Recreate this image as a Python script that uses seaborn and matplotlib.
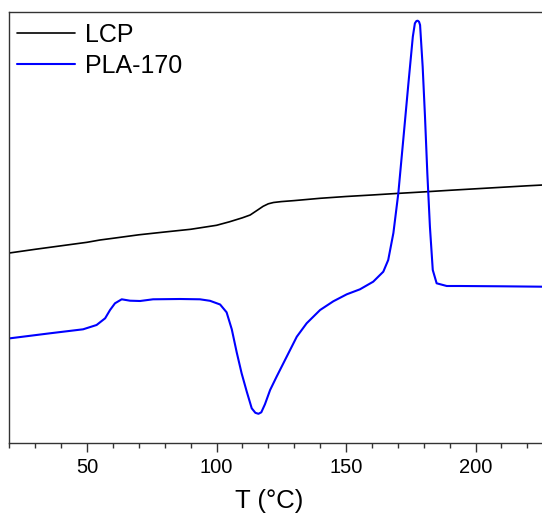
import matplotlib
matplotlib.use("Agg")
import matplotlib.pyplot as plt
from matplotlib.ticker import MultipleLocator
import pandas as pd
import seaborn as sns

# DSC traces (heat flow, arbitrary units; endo down)
lcp_T = [20, 30, 40, 50, 55, 60, 70, 80, 90, 100, 105, 110, 113, 116, 118,
         120, 122, 125, 130, 140, 150, 160, 170, 180, 190, 200, 210, 220, 226]
lcp_hf = [190.3, 194.0, 197.5, 201.0, 203.3, 205.0, 208.5, 211.3, 214.0, 218.0,
          221.5, 225.5, 228.3, 233.5, 237.0, 239.5, 240.8, 241.7, 242.7, 245.0,
          246.8, 248.3, 249.9, 251.4, 253.0, 254.5, 256.0, 257.5, 258.3]

pla_T = [20.3, 35.7, 48.5, 53.7, 57.0, 58.9, 60.8, 63.4, 66.6, 70.5, 75.5, 85.9,
         93.6, 97.5, 101.4, 103.9, 105.9, 107.8, 109.7, 111.7, 113.6, 115.0,
         116.2, 117.3, 118.7, 120.7, 123.2, 127.1, 131.0, 134.8, 140.0, 145.1,
         150.3, 155.4, 160.5, 164.4, 166.3, 168.3, 170.2, 172.1, 174.1, 175.8,
         176.6, 177.2, 177.7, 178.2, 178.6, 179.6, 180.5, 181.4, 182.4, 183.5,
         185.0, 188.9, 194.0, 210.0, 226.0]
pla_hf = [105.0, 110.0, 114.0, 118.3, 125.0, 133.3, 140.0, 144.0, 142.6, 142.3,
          144.0, 144.3, 144.0, 142.5, 138.8, 131.0, 114.0, 91.0, 70.0, 51.5,
          35.0, 30.5, 29.5, 31.0, 39.0, 53.3, 66.6, 86.6, 106.6, 120.0, 133.3,
          142.0, 149.0, 154.0, 161.6, 171.6, 183.3, 210.3, 250.0, 303.3, 360.0,
          406.6, 420.0, 422.3, 422.6, 421.5, 418.3, 376.6, 326.6, 270.0, 216.6,
          173.3, 160.0, 157.3, 157.3, 157.0, 156.6]

x_ticks = [50, 100, 150, 200]
series_names = ["LCP", "PLA-170"]
series_colors = ["black", "blue"]
line_widths = [1.2, 1.5]

df = pd.concat([
    pd.DataFrame({"T": lcp_T, "hf": lcp_hf, "sample": series_names[0]}),
    pd.DataFrame({"T": pla_T, "hf": pla_hf, "sample": series_names[1]}),
], ignore_index=True)

sns.set_theme(style="ticks")
plt.rcParams["font.family"] = ["Liberation Sans", "DejaVu Sans"]
plt.rcParams["text.color"] = "black"
plt.rcParams["axes.labelcolor"] = "black"

fig = plt.figure(figsize=(5.42, 5.21), dpi=100)
W, H = 542, 521
x0, x1 = 20, 230
px_per_unit = 2.59
left_px, top_px, bottom_px = 9.3, 12.3, 443.3
ax_w_px = (x1 - x0) * px_per_unit
ax_h_px = bottom_px - top_px
ax = fig.add_axes([left_px / W, (H - bottom_px) / H, ax_w_px / W, ax_h_px / H])

sns.lineplot(data=df, x="T", y="hf", hue="sample",
             palette=dict(zip(series_names, series_colors)),
             estimator=None, sort=False, ax=ax, legend=True)
for line, lw in zip(ax.lines, line_widths):
    line.set_linewidth(lw)

ax.set_xlim(x0, x1)
ax.set_ylim(0, 431)
ax.set_xticks(x_ticks)
ax.xaxis.set_minor_locator(MultipleLocator(10))
ax.set_yticks([])
ax.tick_params(axis="x", which="major", direction="out", length=6.5, width=1.0,
               labelsize=14.5, pad=4, color="#333333", labelcolor="black")
ax.tick_params(axis="x", which="minor", direction="out", length=3.6, width=1.0,
               color="#333333")
for s in ax.spines.values():
    s.set_linewidth(1.0)
    s.set_color("#333333")

ax.set_ylabel("")
ax.set_xlabel("T (°C)", fontsize=18.5)
ax.xaxis.set_label_coords(0.4775, -0.105)

handles, labels = ax.get_legend_handles_labels()
for h, lw in zip(handles, line_widths):
    h.set_linewidth(lw)
ax.legend(handles, labels, loc="upper left",
          bbox_to_anchor=(7.4 / ax_w_px, 0.976),
          frameon=False, fontsize=18, handlelength=2.32, handletextpad=0.4,
          labelspacing=0.3, borderaxespad=0.0, borderpad=0.0)

fig.savefig("out.png", dpi=100)
